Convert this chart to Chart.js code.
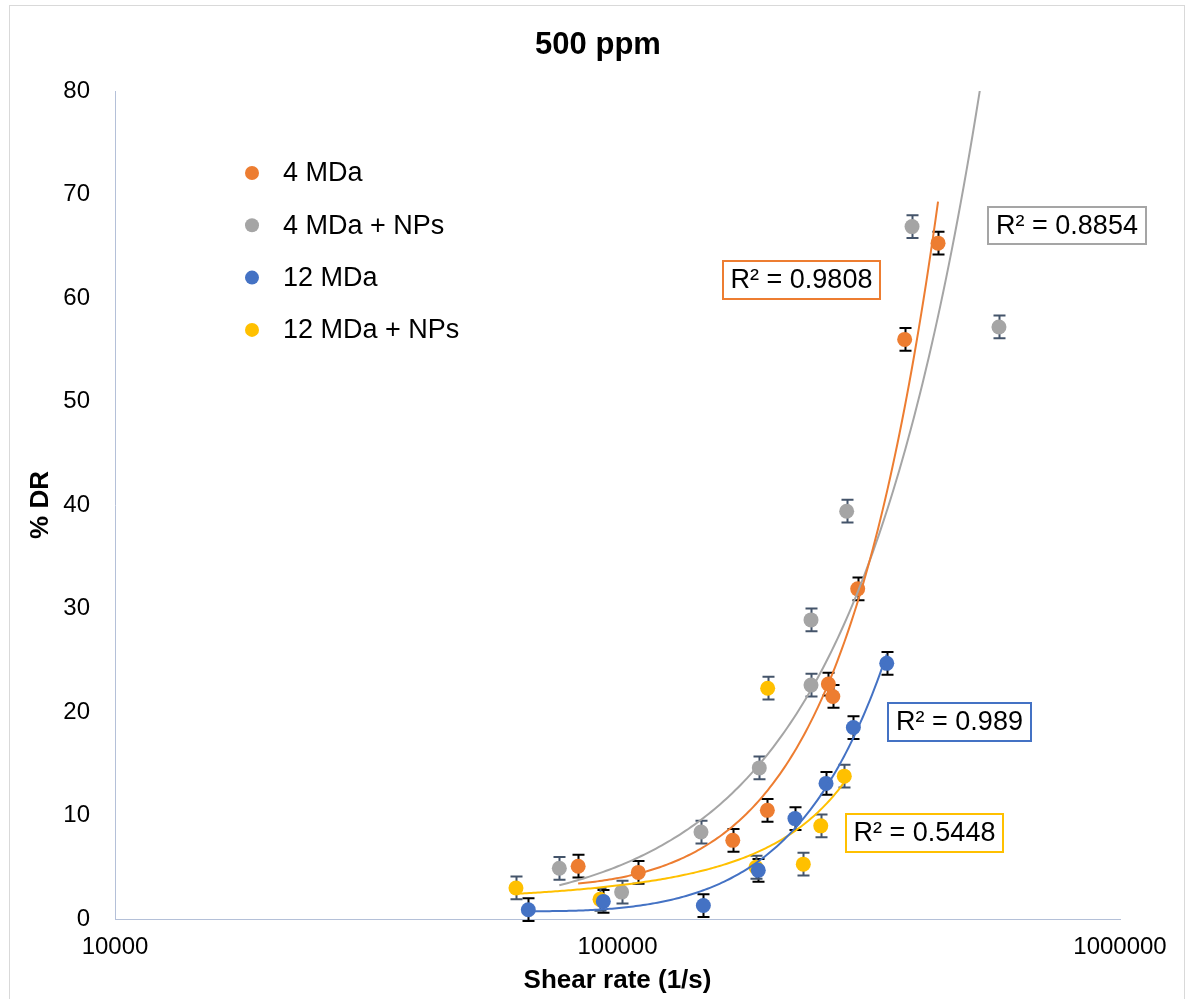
<!DOCTYPE html>
<html>
<head>
<meta charset="utf-8">
<script src="https://cdn.jsdelivr.net/npm/chart.js@4"></script>
<style>
  html, body { margin: 0; padding: 0; background: #fff; }
  #wrap { width: 1191px; height: 999px; }
</style>
</head>
<body>
<div id="wrap"><canvas id="myChart" width="1191" height="999"></canvas></div>
<script>
// series names, colours, trendline kinds (as in the excel chart)
var seriesNames = ["4 MDa", "4 MDa + NPs", "12 MDa", "12 MDa + NPs"];
var seriesColors = ["#ED7D31", "#A5A5A5", "#4472C4", "#FFC000"];
var errColors = ["#000000", "#44546A", "#000000", "#44546A"];
var trendTypes = ["poly2", "power", "poly2", "exp"];
var rSquared = ["R² = 0.9808", "R² = 0.8854", "R² = 0.989", "R² = 0.5448"];
var xTicks = [10000, 100000, 1000000];

// values
var x_4MDa = [83500, 110000, 169600, 198700, 262800, 268200, 300600, 372800, 434400];
var y_4MDa = [5.1, 4.5, 7.6, 10.5, 22.7, 21.5, 31.9, 56.0, 65.3];
var e_4MDa = [1.1, 1.1, 1.1, 1.1, 1.1, 1.1, 1.1, 1.1, 1.1];

var x_4MDaNP = [76600, 101900, 146600, 191500, 242700, 242700, 285800, 385600, 574300];
var y_4MDaNP = [4.9, 2.6, 8.4, 14.6, 28.9, 22.6, 39.4, 66.9, 57.2];
var e_4MDaNP = [1.1, 1.1, 1.1, 1.1, 1.1, 1.1, 1.1, 1.1, 1.1];

var x_12MDa = [66450, 93700, 148200, 190600, 225500, 260000, 294700, 343400];
var y_12MDa = [0.9, 1.7, 1.3, 4.7, 9.7, 13.1, 18.5, 24.7];
var e_12MDa = [1.1, 1.1, 1.1, 1.1, 1.1, 1.1, 1.1, 1.1];

var x_12MDaNP = [62800, 92300, 188600, 199000, 234300, 253800, 282700];
var y_12MDaNP = [3.0, 1.9, 5.0, 22.3, 5.3, 9.0, 13.8];
var e_12MDaNP = [1.1, 1.1, 1.1, 1.1, 1.1, 1.1, 1.1];

var allX = [x_4MDa, x_4MDaNP, x_12MDa, x_12MDaNP];
var allY = [y_4MDa, y_4MDaNP, y_12MDa, y_12MDaNP];
var allE = [e_4MDa, e_4MDaNP, e_12MDa, e_12MDaNP];

// R² label boxes [left, top, width, height]
var rBoxes = [[723, 261, 157, 38], [988, 207, 158, 37], [888, 703, 143, 38], [846, 814, 157, 38]];

var FONT = "'Liberation Sans', Arial, sans-serif";

function linfit(u, v) {
  var n = u.length, su = 0, sv = 0, suu = 0, suv = 0;
  for (var i = 0; i < n; i++) { su += u[i]; sv += v[i]; suu += u[i] * u[i]; suv += u[i] * v[i]; }
  var b = (n * suv - su * sv) / (n * suu - su * su);
  return { a: (sv - b * su) / n, b: b };
}

// least squares y = c0 + c1*t + c2*t^2 (t = x/1e5)
function quadfit(xs, ys) {
  var S = [0, 0, 0, 0, 0], T = [0, 0, 0];
  for (var i = 0; i < xs.length; i++) {
    var t = xs[i] / 1e5;
    for (var p = 0; p < 5; p++) S[p] += Math.pow(t, p);
    for (var q = 0; q < 3; q++) T[q] += ys[i] * Math.pow(t, q);
  }
  var M = [[S[0], S[1], S[2], T[0]], [S[1], S[2], S[3], T[1]], [S[2], S[3], S[4], T[2]]];
  for (var c = 0; c < 3; c++) {
    for (var r = c + 1; r < 3; r++) {
      var f = M[r][c] / M[c][c];
      for (var k = c; k < 4; k++) M[r][k] -= f * M[c][k];
    }
  }
  var z = [0, 0, 0];
  for (var row = 2; row >= 0; row--) {
    var s = M[row][3];
    for (var k2 = row + 1; k2 < 3; k2++) s -= M[row][k2] * z[k2];
    z[row] = s / M[row][row];
  }
  return function (x) { var t = x / 1e5; return z[0] + z[1] * t + z[2] * t * t; };
}

function trendFn(kind, xs, ys) {
  if (kind === "poly2") return quadfit(xs, ys);
  if (kind === "power") {
    var p = linfit(xs.map(Math.log), ys.map(Math.log));
    return function (x) { return Math.exp(p.a + p.b * Math.log(x)); };
  }
  var e = linfit(xs, ys.map(Math.log));
  return function (x) { return Math.exp(e.a + e.b * x); };
}

function trendPoints(kind, xs, ys) {
  var fn = trendFn(kind, xs, ys);
  var lo = Math.min.apply(null, xs), hi = Math.max.apply(null, xs), pts = [];
  for (var k = 0; k <= 150; k++) {
    var x = lo * Math.pow(hi / lo, k / 150);
    pts.push({ x: x, y: fn(x) });
  }
  return pts;
}

var datasets = [];
allX.forEach(function (xs, s) {
  datasets.push({
    label: seriesNames[s],
    data: xs.map(function (x, i) { return { x: x, y: allY[s][i] }; }),
    backgroundColor: seriesColors[s],
    borderColor: seriesColors[s],
    pointRadius: 7.5,
    pointBorderWidth: 0,
    order: 2,
    errs: allE[s],
    errColor: errColors[s],
  });
});
allX.forEach(function (xs, s) {
  datasets.push({
    label: "trend " + seriesNames[s],
    type: "line",
    data: trendPoints(trendTypes[s], xs, allY[s]),
    borderColor: seriesColors[s],
    borderWidth: 2,
    pointRadius: 0,
    fill: false,
    order: 1,
  });
});

var frame = {
  id: "frame",
  beforeDraw: function (chart) {
    var c = chart.ctx;
    c.save();
    c.fillStyle = "#fff";
    c.fillRect(0, 0, chart.width, chart.height);
    c.strokeStyle = "#D9D9D9";
    c.lineWidth = 1;
    c.strokeRect(9.5, 5.5, 1175, 1000);
    c.restore();
  },
};

var errorBars = {
  id: "errorBars",
  beforeDatasetsDraw: function (chart) {
    var c = chart.ctx, xs = chart.scales.x, ys = chart.scales.y;
    c.save();
    c.lineWidth = 2;
    chart.data.datasets.forEach(function (d) {
      if (!d.errs) return;
      c.strokeStyle = d.errColor;
      d.data.forEach(function (p, i) {
        var px = Math.round(xs.getPixelForValue(p.x)) + 0.5;
        var top = ys.getPixelForValue(p.y + d.errs[i]);
        var bot = ys.getPixelForValue(p.y - d.errs[i]);
        c.beginPath();
        c.moveTo(px, top); c.lineTo(px, bot);
        c.moveTo(px - 6, top); c.lineTo(px + 6, top);
        c.moveTo(px - 6, bot); c.lineTo(px + 6, bot);
        c.stroke();
      });
    });
    c.restore();
  },
};

var labels = {
  id: "labels",
  afterDraw: function (chart) {
    var c = chart.ctx;
    c.save();
    // title
    c.fillStyle = "#000";
    c.font = "bold 31px " + FONT;
    c.textAlign = "center";
    c.textBaseline = "middle";
    c.fillText("500 ppm", 598, 45);
    // legend
    c.font = "27px " + FONT;
    c.textAlign = "left";
    for (var i = 0; i < 4; i++) {
      var y = 173 + i * 52.3;
      c.fillStyle = seriesColors[i];
      c.beginPath();
      c.arc(252, y, 7, 0, Math.PI * 2);
      c.fill();
      c.fillStyle = "#000";
      c.fillText(seriesNames[i], 283, y + 1);
    }
    // R² boxes
    for (var j = 0; j < 4; j++) {
      var b = rBoxes[j];
      c.fillStyle = "#fff";
      c.fillRect(b[0], b[1], b[2], b[3]);
      c.strokeStyle = seriesColors[j];
      c.lineWidth = 2;
      c.strokeRect(b[0], b[1], b[2], b[3]);
      c.fillStyle = "#000";
      c.textAlign = "center";
      c.fillText(rSquared[j], b[0] + b[2] / 2, b[1] + b[3] / 2 + 1);
    }
    c.restore();
  },
};

new Chart(document.getElementById("myChart"), {
  type: "scatter",
  data: { datasets: datasets },
  plugins: [frame, errorBars, labels],
  options: {
    responsive: false,
    animation: false,
    events: [],
    layout: { padding: { left: 0, right: 71, top: 91, bottom: 0 } },
    plugins: {
      legend: { display: false },
      tooltip: { enabled: false },
      title: { display: false },
    },
    scales: {
      x: {
        type: "logarithmic",
        min: 10000,
        max: 1000000,
        grid: { display: false, drawTicks: false },
        border: { display: true, color: "#B4C0D8", width: 1 },
        afterBuildTicks: function (scale) {
          scale.ticks = xTicks.map(function (v) { return { value: v }; });
        },
        ticks: {
          autoSkip: false,
          maxRotation: 0,
          padding: 14,
          color: "#000",
          font: { family: FONT, size: 24 },
          callback: function (v) { return String(v); },
        },
        title: {
          display: true,
          text: "Shear rate (1/s)",
          color: "#000",
          font: { family: FONT, size: 26, weight: "bold" },
          padding: { top: 0, bottom: 3 },
        },
        afterFit: function (scale) { scale.height = 80; },
      },
      y: {
        min: 0,
        max: 80,
        grid: { display: false, drawTicks: false },
        border: { display: true, color: "#B4C0D8", width: 1 },
        ticks: {
          stepSize: 10,
          padding: 25,
          color: "#000",
          font: { family: FONT, size: 24 },
        },
        title: {
          display: true,
          text: "% DR",
          color: "#000",
          font: { family: FONT, size: 26, weight: "bold" },
          padding: { top: 25, bottom: 0 },
        },
        afterFit: function (scale) { scale.width = 115; },
      },
    },
  },
});
</script>
</body>
</html>
